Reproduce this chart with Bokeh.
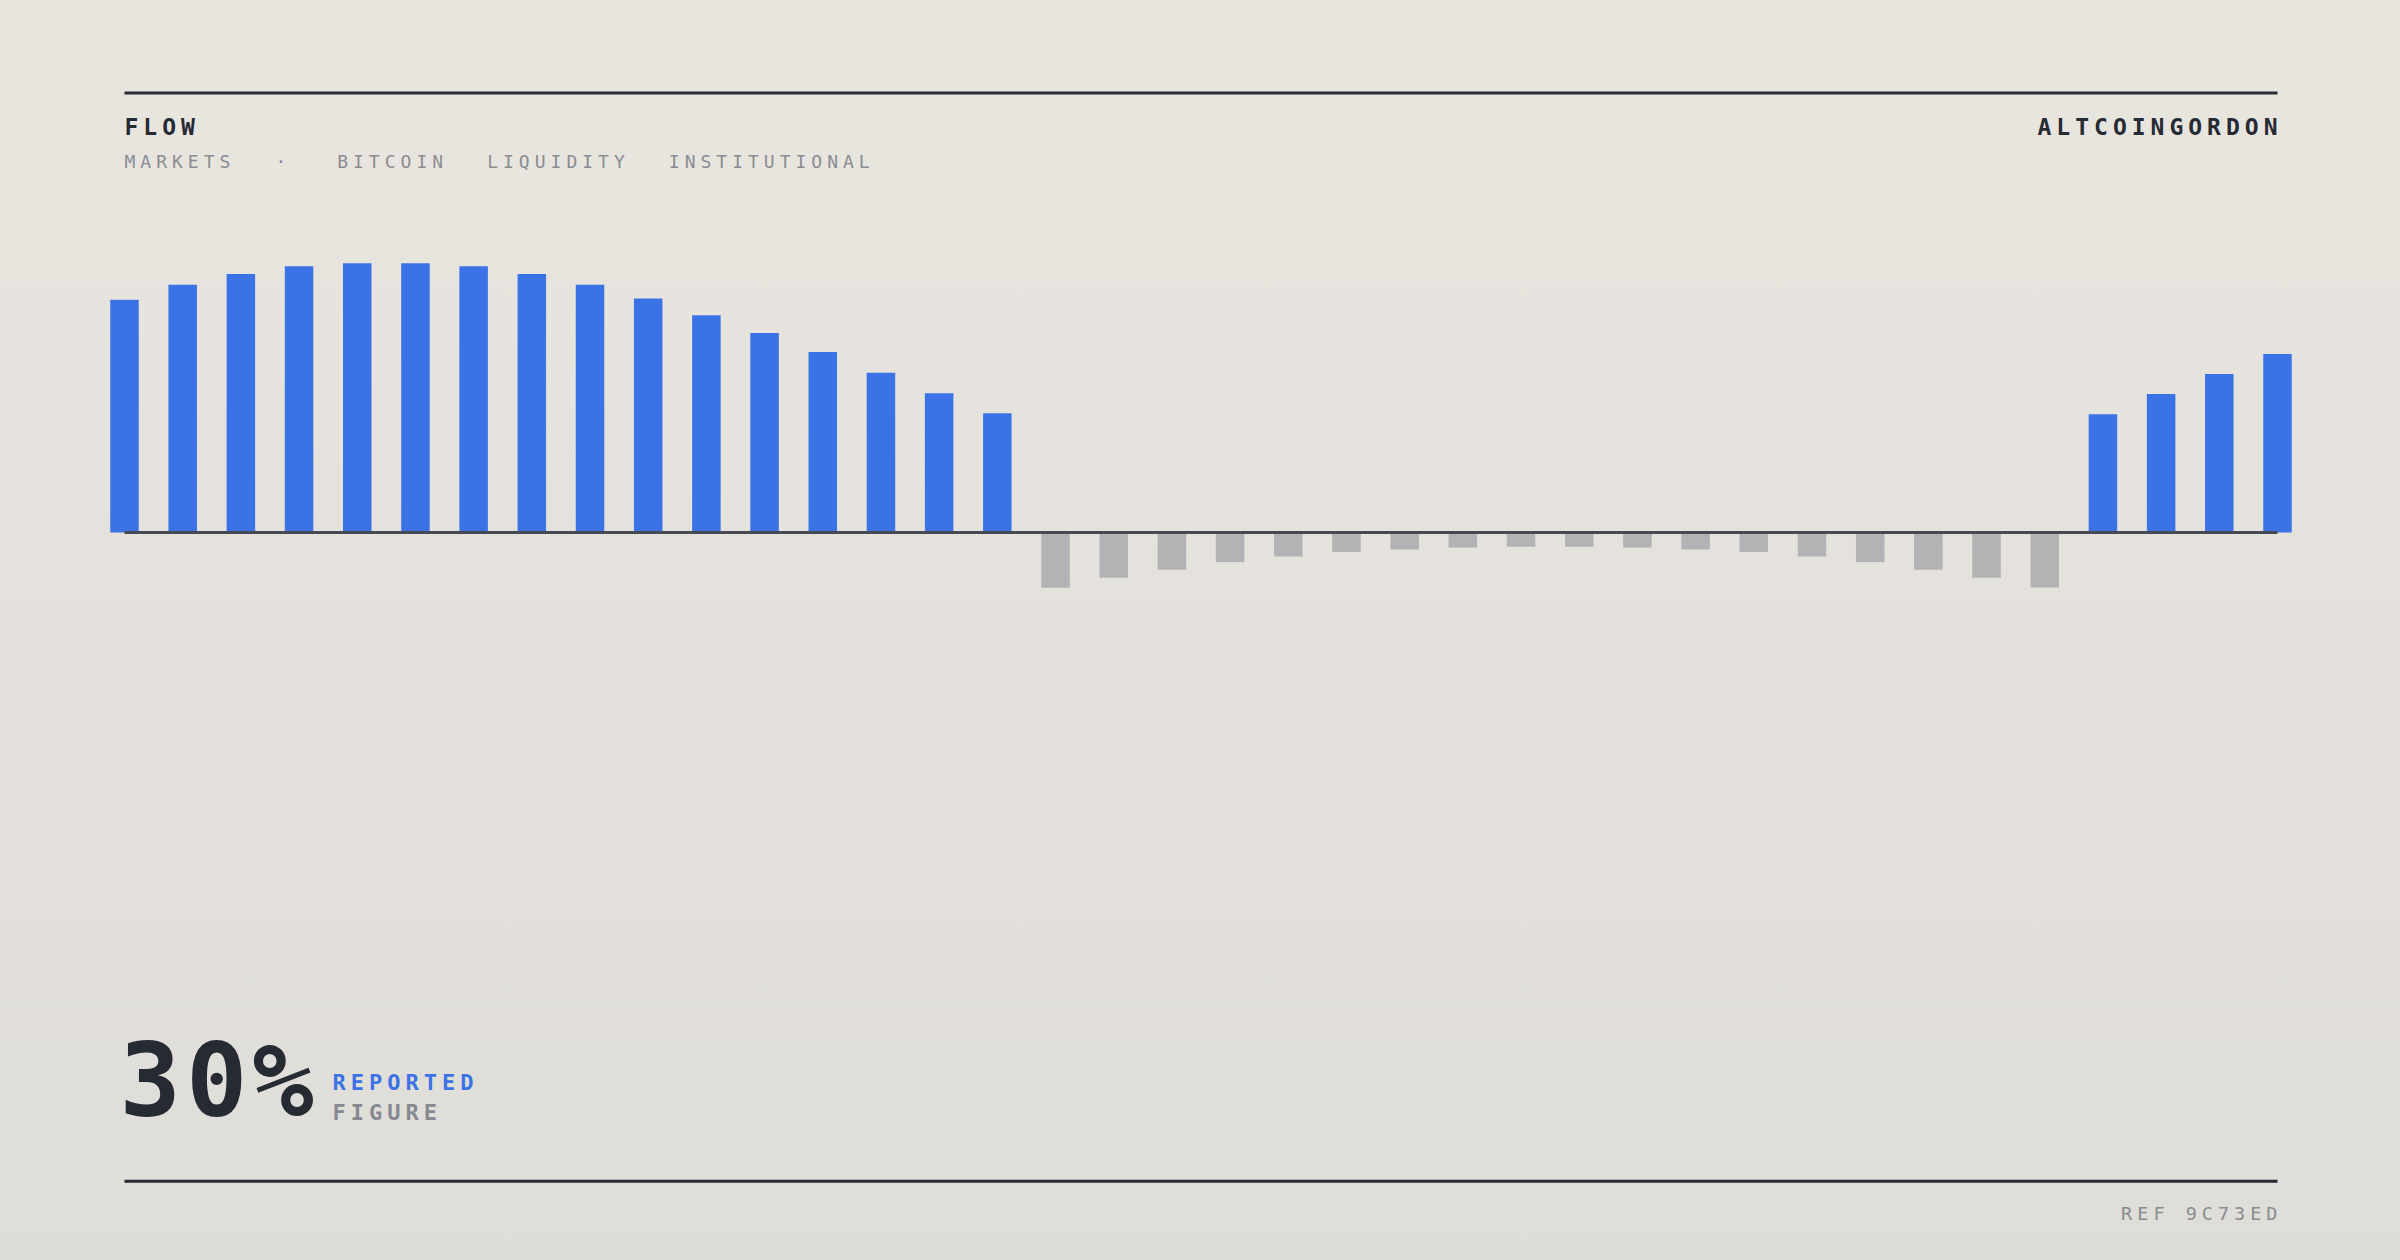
from bokeh.plotting import figure
from bokeh.models import Range1d, Label, InlineStyleSheet, GlobalInlineStyleSheet
from bokeh.embed import file_html
from bokeh.resources import INLINE

# ---------------- data ----------------
periods = list(range(38))
flow_values = [
    86.4, 92.0, 96.0, 98.9, 100.0, 100.0, 98.9, 96.0, 92.0, 86.9, 80.7, 74.1, 67.0, 59.3, 51.7, 44.3,
    -20.5, -16.8, -13.8, -11.0, -8.9, -7.2, -6.3, -5.6, -5.3, -5.3, -5.6, -6.3, -7.2, -8.9, -11.0, -13.8, -16.8, -20.4,
    43.9, 51.4, 58.9, 66.3,
]
title_text = "FLOW"
tag_texts = ["MARKETS", "·", "BITCOIN", "LIQUIDITY", "INSTITUTIONAL"]
brand_text = "ALTCOINGORDON"
headline_value = "30%"
headline_top = "REPORTED"
headline_bottom = "FIGURE"
ref_text = "REF 9C73ED"

# ---------------- layout / style ----------------
W, H = 2384, 1244
LEFT, RIGHT = 124, 2277          # first / last bar centre (px)
BASE = 532                        # baseline, px from top
UNIT_PX = 2.693                   # px per value unit
LS = 5                            # letter spacing, px
K = 0.38                          # alphabetic baseline correction (em)
pitch = (RIGHT - LEFT) / (len(periods) - 1)

DARK = "#262a33"
GREY = "#8a8c92"
BLUE = "#3b73e6"
NEG = "#b3b3b5"
FONT = "DejaVu Sans Mono"

p = figure(
    width=W, height=H, output_backend="svg", toolbar_location=None,
    x_range=Range1d(-LEFT / pitch, (W - LEFT) / pitch),
    y_range=Range1d(-(H - BASE) / UNIT_PX, BASE / UNIT_PX),
    x_axis_type=None, y_axis_type=None, min_border=0,
)
p.extra_x_ranges = {"px": Range1d(0, W)}
p.extra_y_ranges = {"px": Range1d(H, 0)}
p.outline_line_color = None
p.grid.visible = False
p.background_fill_alpha = 0
p.border_fill_alpha = 0
p.stylesheets = [
    InlineStyleSheet(css=f":host {{ letter-spacing: {LS}px; }}"),
    GlobalInlineStyleSheet(css="html { min-height: 100%; background: linear-gradient(180deg, #e9e6e0 0%, #dfddd8 100%); } body { background: transparent; }"),
]

pos_x = [x for x, v in zip(periods, flow_values) if v >= 0]
pos_v = [v for v in flow_values if v >= 0]
neg_x = [x for x, v in zip(periods, flow_values) if v < 0]
neg_v = [v for v in flow_values if v < 0]

p.vbar(x=pos_x, top=pos_v, bottom=0, width=0.49, fill_color=BLUE, line_color=None)
p.vbar(x=neg_x, top=0, bottom=neg_v, width=0.49, fill_color=NEG, line_color=None)
p.segment(x0=[periods[0]], y0=[0], x1=[periods[-1]], y1=[0], line_color="#474a52", line_width=3)

# rules
p.segment(x0=[LEFT, LEFT], y0=[92.5, 1180.7], x1=[RIGHT, RIGHT], y1=[92.5, 1180.7],
          line_color=DARK, line_width=3, x_range_name="px", y_range_name="px")


def lab(text, x, baseline, size, color, weight="normal", align="left"):
    if align == "right":
        x = x - (len(text) - 1) * LS
    p.add_layout(Label(
        x=x, y=baseline - K * size, text=text, x_range_name="px", y_range_name="px",
        text_font=FONT, text_font_size=f"{size}px", text_font_style=weight,
        text_color=color, text_align=align, text_baseline="alphabetic",
    ))


lab(title_text, 124, 135, 23, DARK, "bold")
lab(brand_text, RIGHT, 135, 23, DARK, "bold", "right")
tag_x = [124, 280.5, 336.7, 486.7, 668.3]
for t, x in zip(tag_texts, tag_x):
    lab(t, x, 168, 18, GREY, "normal", "center" if t == "·" else "left")

lab(headline_value, 119, 1118.3, 102, DARK, "bold")
lab(headline_top, 332, 1090.7, 22, BLUE, "bold")
lab(headline_bottom, 332, 1120.3, 22, "#868991", "bold")
lab(ref_text, RIGHT, 1220.3, 18.5, GREY, "normal", "right")

open("out.html", "w").write(file_html(p, INLINE))
